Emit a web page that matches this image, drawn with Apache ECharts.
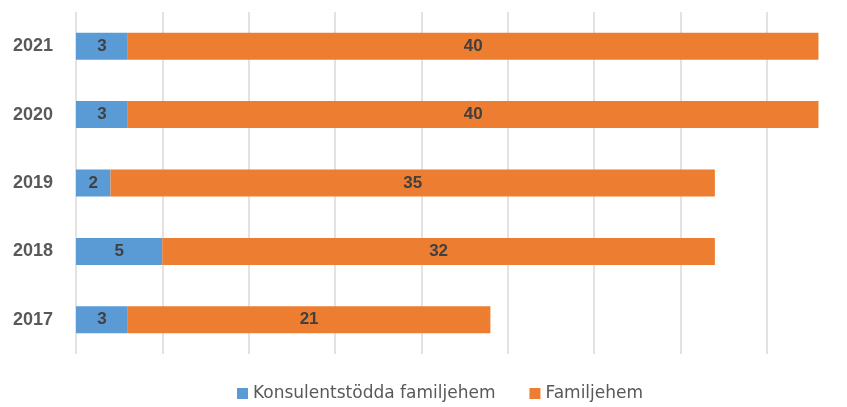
<!DOCTYPE html>
<html>
<head>
<meta charset="utf-8">
<script src="https://cdn.jsdelivr.net/npm/echarts@6/dist/echarts.min.js"></script>
<style>
  html, body { margin: 0; padding: 0; background: #fff; }
  #chart { width: 847px; height: 407px; }
</style>
</head>
<body>
<div id="chart"></div>
<script>
// Years, bottom to top
const years = ['2017', '2018', '2019', '2020', '2021'];
// Consultant-supported foster homes per year
const konsulentstodda = [3, 5, 2, 3, 3];
// Regular foster homes per year
const familjehem = [21, 32, 35, 40, 40];
// Legend names
const seriesNames = ['Konsulentstödda familjehem', 'Familjehem'];

const chart = echarts.init(document.getElementById('chart'));

const labelStyle = {
  show: true,
  position: 'inside',
  color: '#404040',
  fontFamily: 'Liberation Sans, Arial, sans-serif',
  fontWeight: 'bold',
  fontSize: 17
};

chart.setOption({
  animation: false,
  backgroundColor: '#ffffff',
  // plot area runs slightly past the right edge of the canvas
  grid: { left: 76, width: 777, top: 12, bottom: 53, containLabel: false, outerBoundsMode: 'none' },
  xAxis: {
    type: 'value',
    min: 0,
    max: 45,
    interval: 5,
    axisLabel: { show: false },
    axisLine: { show: false },
    axisTick: { show: false },
    splitLine: { show: true, showMaxLine: false, lineStyle: { color: '#d9d9d9', width: 1.5 } }
  },
  yAxis: {
    type: 'category',
    data: years,
    axisLine: { show: false },
    axisTick: { show: false },
    axisLabel: {
      color: '#595959',
      fontFamily: 'Liberation Sans, Arial, sans-serif',
      fontWeight: 'bold',
      fontSize: 18,
      margin: 23
    }
  },
  legend: {
    bottom: 0,
    left: 232,
    itemWidth: 11,
    itemHeight: 11,
    itemGap: 34,
    icon: 'rect',
    textStyle: {
      color: '#595959',
      fontFamily: 'DejaVu Sans, sans-serif',
      fontSize: 17
    },
    data: seriesNames
  },
  series: [
    {
      name: seriesNames[0],
      type: 'bar',
      stack: 'total',
      barWidth: 27,
      itemStyle: { color: '#5b9bd5' },
      label: labelStyle,
      data: konsulentstodda
    },
    {
      name: seriesNames[1],
      type: 'bar',
      stack: 'total',
      barWidth: 27,
      itemStyle: { color: '#ed7d31' },
      label: labelStyle,
      data: familjehem
    }
  ]
});
</script>
</body>
</html>
